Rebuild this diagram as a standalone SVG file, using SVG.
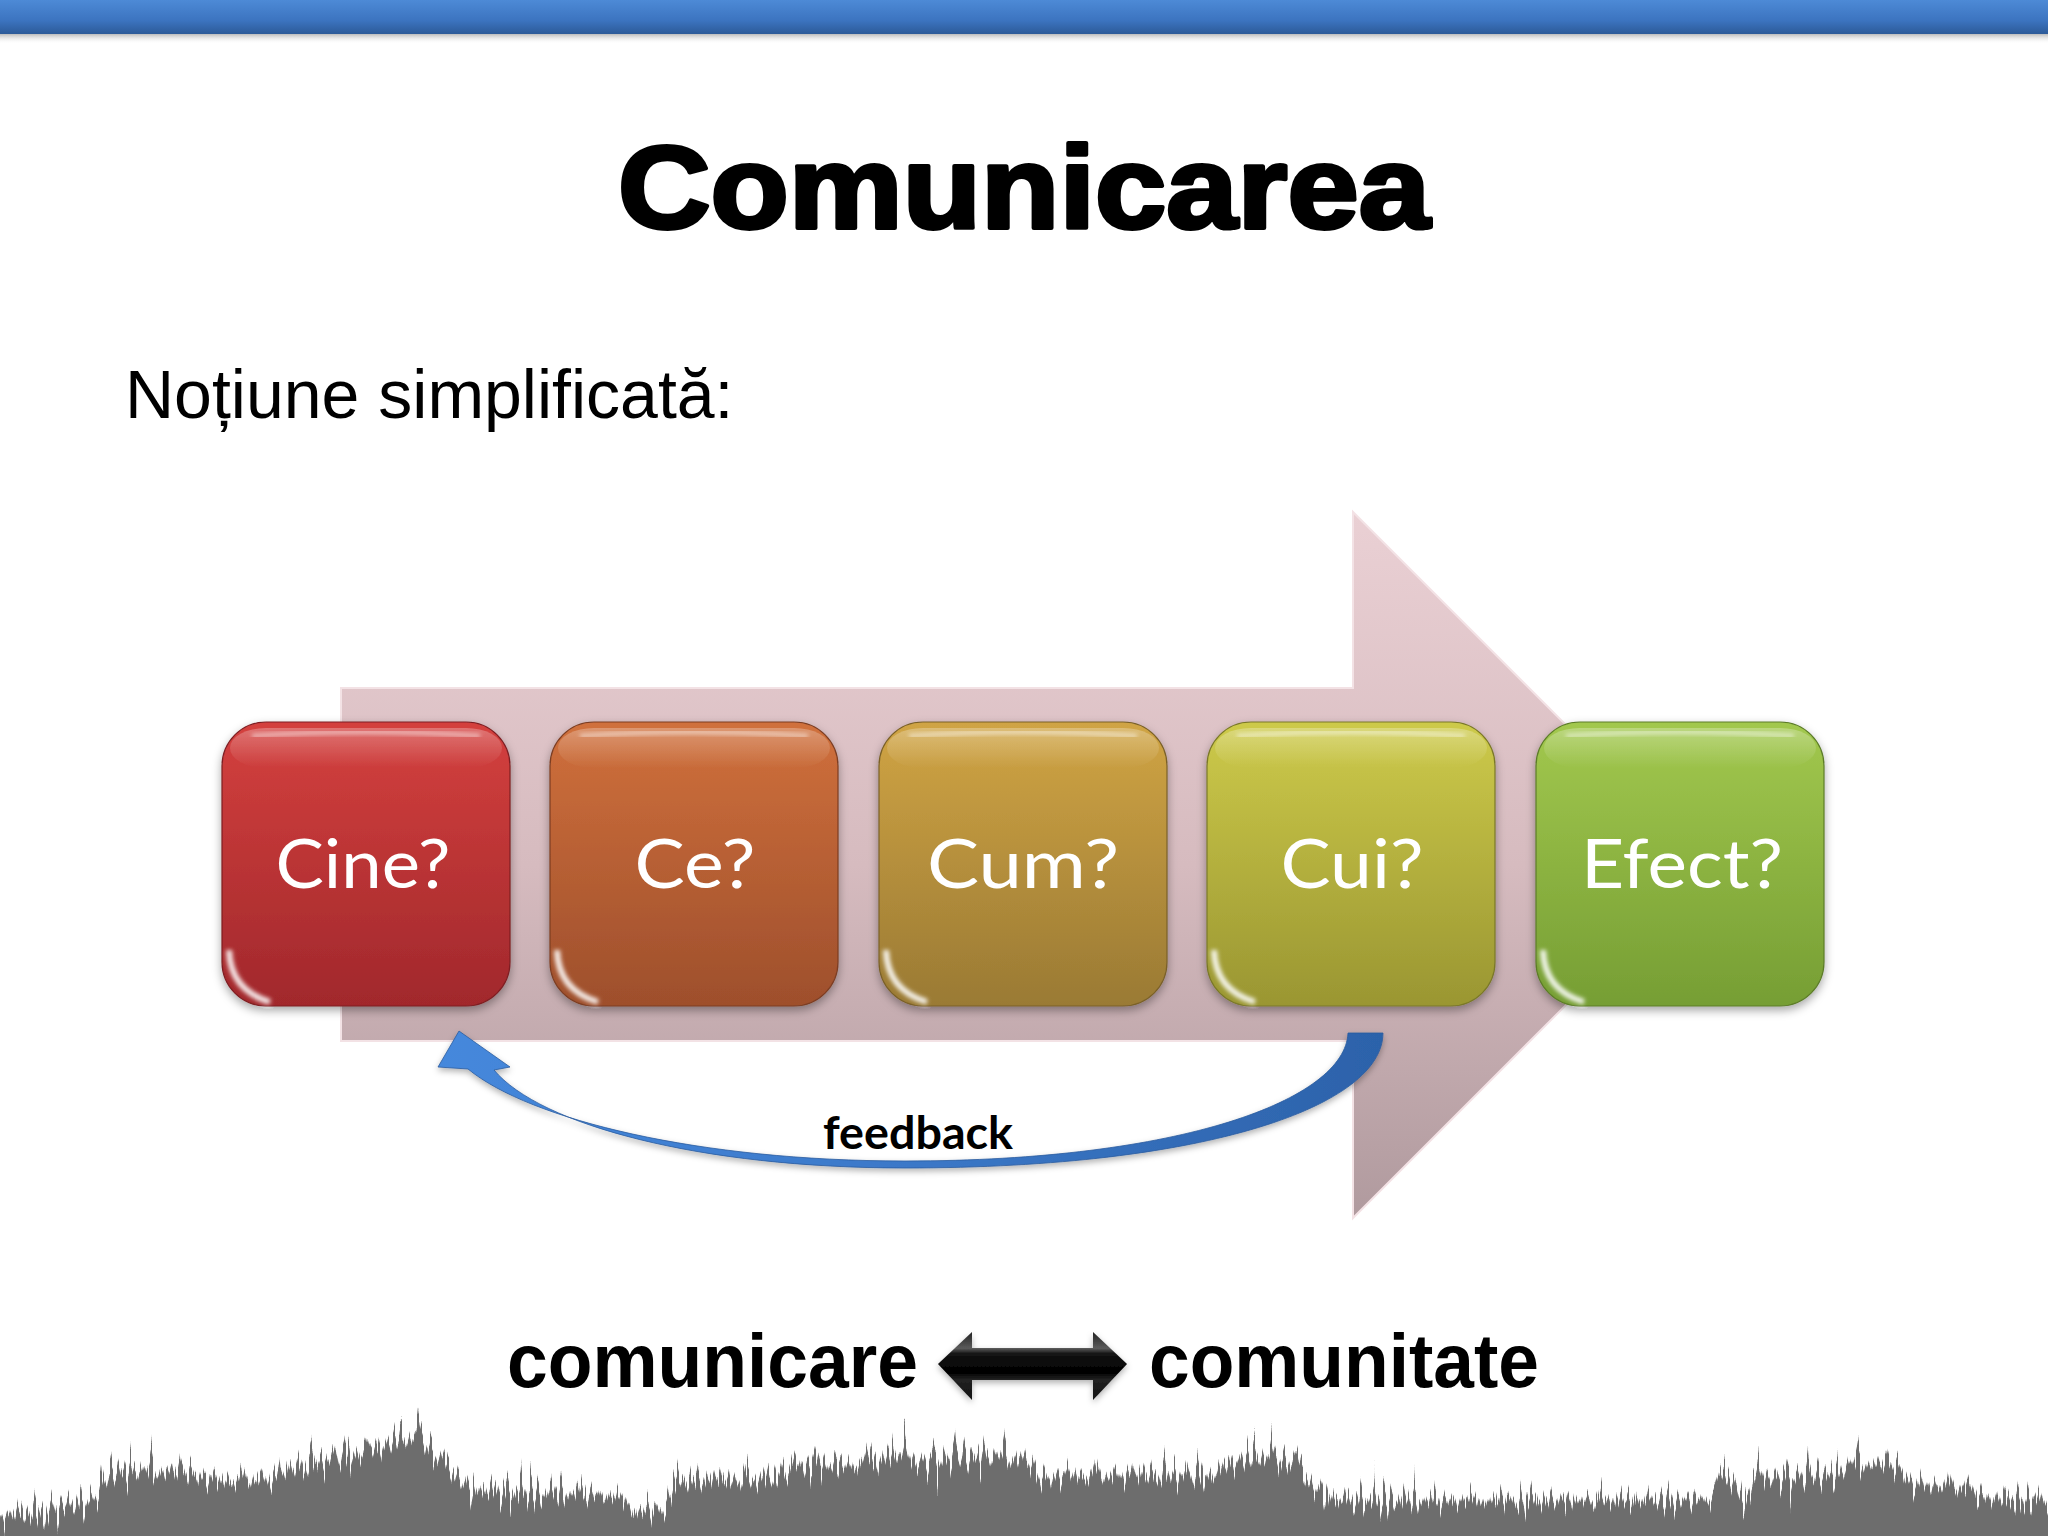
<svg xmlns="http://www.w3.org/2000/svg" width="2048" height="1536" viewBox="0 0 2048 1536">
<style>
.box-label{font-family:Lato,"Open Sans","Liberation Sans",sans-serif;font-size:68px;fill:#ffffff;text-anchor:middle}
.box-edge{stroke-width:1.2}
.bottom-word{font-family:"Liberation Sans",Arial,sans-serif;font-weight:bold;font-size:76px;fill:#000}
</style>
<defs>
  <linearGradient id="bar" x1="0" y1="0" x2="0" y2="1">
    <stop offset="0" stop-color="#4d8ad6"/>
    <stop offset="0.6" stop-color="#3c74c0"/>
    <stop offset="1" stop-color="#2c5a98"/>
  </linearGradient>
  <linearGradient id="barShadow" x1="0" y1="0" x2="0" y2="1">
    <stop offset="0" stop-color="#8a8a8a" stop-opacity="0.7"/>
    <stop offset="1" stop-color="#ffffff" stop-opacity="0"/>
  </linearGradient>
  <linearGradient id="pink" gradientUnits="userSpaceOnUse" x1="0" y1="512" x2="0" y2="1218">
    <stop offset="0" stop-color="#ead0d4"/>
    <stop offset="0.5" stop-color="#d6bbbf"/>
    <stop offset="1" stop-color="#b09a9e"/>
  </linearGradient>
  <linearGradient id="gCine" x1="0" y1="0" x2="0" y2="1">
    <stop offset="0" stop-color="#d4403e"/><stop offset="1" stop-color="#a1282c"/>
  </linearGradient>
  <linearGradient id="gCe" x1="0" y1="0" x2="0" y2="1">
    <stop offset="0" stop-color="#d0703c"/><stop offset="1" stop-color="#9e4f2c"/>
  </linearGradient>
  <linearGradient id="gCum" x1="0" y1="0" x2="0" y2="1">
    <stop offset="0" stop-color="#d0a444"/><stop offset="1" stop-color="#9a7a34"/>
  </linearGradient>
  <linearGradient id="gCui" x1="0" y1="0" x2="0" y2="1">
    <stop offset="0" stop-color="#cdca4a"/><stop offset="1" stop-color="#9a9632"/>
  </linearGradient>
  <linearGradient id="gEfect" x1="0" y1="0" x2="0" y2="1">
    <stop offset="0" stop-color="#a2c84e"/><stop offset="1" stop-color="#769e34"/>
  </linearGradient>
  <linearGradient id="topGloss" x1="0" y1="0" x2="0" y2="1">
    <stop offset="0" stop-color="#ffffff" stop-opacity="0.55"/>
    <stop offset="1" stop-color="#ffffff" stop-opacity="0"/>
  </linearGradient>
  <linearGradient id="blue" gradientUnits="userSpaceOnUse" x1="440" y1="0" x2="1383" y2="0">
    <stop offset="0" stop-color="#4588dc"/>
    <stop offset="0.5" stop-color="#3b78c8"/>
    <stop offset="1" stop-color="#2c62aa"/>
  </linearGradient>
  <linearGradient id="dbl" gradientUnits="userSpaceOnUse" x1="0" y1="1332" x2="0" y2="1400">
    <stop offset="0" stop-color="#222"/>
    <stop offset="0.24" stop-color="#5a5a5a"/>
    <stop offset="0.32" stop-color="#141414"/>
    <stop offset="0.6" stop-color="#000"/>
    <stop offset="0.7" stop-color="#222"/>
    <stop offset="1" stop-color="#111"/>
  </linearGradient>
  <filter id="shadow" x="-10%" y="-10%" width="120%" height="125%">
    <feDropShadow dx="0" dy="4" stdDeviation="5" flood-color="#000" flood-opacity="0.35"/>
  </filter>
  <filter id="softShadow" x="-10%" y="-20%" width="120%" height="160%">
    <feDropShadow dx="0" dy="3" stdDeviation="3" flood-color="#000" flood-opacity="0.3"/>
  </filter>
  <filter id="blur2" x="-20%" y="-20%" width="140%" height="140%">
    <feGaussianBlur stdDeviation="2"/>
  </filter>
  <filter id="wave" x="-5%" y="-60%" width="110%" height="220%" color-interpolation-filters="sRGB">
    <feGaussianBlur in="SourceAlpha" stdDeviation="0 20" result="b"/>
    <feTurbulence type="fractalNoise" baseFrequency="0.3 0.004" numOctaves="3" seed="7" result="n"/>
    <feColorMatrix in="n" type="matrix" values="0 0 0 0 0  0 0 0 0 0  0 0 0 0 0  1 0 0 0 0" result="na"/>
    <feComposite in="b" in2="na" operator="arithmetic" k1="0" k2="1" k3="1.4" k4="-0.7" result="s"/>
    <feComponentTransfer in="s" result="m">
      <feFuncA type="linear" slope="14" intercept="-6.5"/>
    </feComponentTransfer>
    <feFlood flood-color="#6d6d6d"/>
    <feComposite in2="m" operator="in"/>
  </filter>
  <clipPath id="waveClip">
    <path d="M0,1476 L35,1472 L60,1466 L92,1462 L110,1432 L190,1428 L215,1440 L270,1438 L300,1425 L360,1412 L380,1400 L425,1396 L445,1420 L470,1450 L600,1454 L628,1460 L632,1472 L665,1470 L675,1440 L780,1436 L800,1422 L1024,1415 L1037,1434 L1220,1434 L1230,1416 L1298,1416 L1310,1444 L1337,1460 L1710,1460 L1716,1438 L1735,1438 L1742,1470 L1755,1436 L1840,1434 L1850,1422 L1900,1422 L1912,1444 L1970,1446 L1985,1458 L2048,1460 L2048,1536 L0,1536 Z"/>
  </clipPath>
  <g id="gloss">
    <path d="M30,14 Q144,6 258,14" fill="none" stroke="#ffffff" stroke-opacity="0.55" stroke-width="4" filter="url(#blur2)"/>
    <rect x="8" y="6" width="272" height="40" rx="36" fill="url(#topGloss)" opacity="0.5"/>
    <path d="M7,228 Q8,268 48,280" fill="none" stroke="#ffffff" stroke-opacity="0.9" stroke-width="6" filter="url(#blur2)"/>
    <path d="M282,60 L282,230" fill="none" stroke="#ffffff" stroke-opacity="0.25" stroke-width="3" filter="url(#blur2)"/>
  </g>
</defs>

<rect x="0" y="0" width="2048" height="1536" fill="#ffffff"/>

<!-- top bar -->
<g id="top-bar">
  <rect x="0" y="33" width="2048" height="11" fill="url(#barShadow)"/>
  <rect x="0" y="0" width="2048" height="34" fill="url(#bar)"/>
</g>

<!-- title -->
<g id="title">
  <text x="1024" y="228" text-anchor="middle" font-family="'Liberation Sans',Arial,sans-serif" font-weight="bold" font-size="116" fill="#000" stroke="#000" stroke-width="4" stroke-linejoin="round" textLength="812" lengthAdjust="spacingAndGlyphs">Comunicarea</text>
</g>

<g id="subtitle">
  <text x="125" y="418" font-family="'Liberation Sans',Arial,sans-serif" font-size="68" fill="#000">Noțiune simplificată:</text>
</g>

<!-- big background arrow -->
<g id="flow-arrow">
  <path d="M341,688 L1353,688 L1353,512 L1706,865 L1353,1218 L1353,1041 L341,1041 Z" fill="url(#pink)" stroke="#f3e2e5" stroke-width="2"/>
</g>

<!-- nodes -->
<g id="node-cine" filter="url(#shadow)">
  <rect x="222" y="722" width="288" height="284" rx="44" fill="url(#gCine)" stroke="#7e1f22" class="box-edge"/>
  <use href="#gloss" transform="translate(222,722)"/>
  <text class="box-label" x="363" y="888" textLength="175" lengthAdjust="spacingAndGlyphs">Cine?</text>
</g>
<g id="node-ce" filter="url(#shadow)">
  <rect x="550" y="722" width="288" height="284" rx="44" fill="url(#gCe)" stroke="#7c3d22" class="box-edge"/>
  <use href="#gloss" transform="translate(550,722)"/>
  <text class="box-label" x="695" y="888" textLength="121" lengthAdjust="spacingAndGlyphs">Ce?</text>
</g>
<g id="node-cum" filter="url(#shadow)">
  <rect x="879" y="722" width="288" height="284" rx="44" fill="url(#gCum)" stroke="#7a6028" class="box-edge"/>
  <use href="#gloss" transform="translate(879,722)"/>
  <text class="box-label" x="1023" y="888" textLength="192" lengthAdjust="spacingAndGlyphs">Cum?</text>
</g>
<g id="node-cui" filter="url(#shadow)">
  <rect x="1207" y="722" width="288" height="284" rx="44" fill="url(#gCui)" stroke="#7a7828" class="box-edge"/>
  <use href="#gloss" transform="translate(1207,722)"/>
  <text class="box-label" x="1352" y="888" textLength="143" lengthAdjust="spacingAndGlyphs">Cui?</text>
</g>
<g id="node-efect" filter="url(#shadow)">
  <rect x="1536" y="722" width="288" height="284" rx="44" fill="url(#gEfect)" stroke="#5c7c28" class="box-edge"/>
  <use href="#gloss" transform="translate(1536,722)"/>
  <text class="box-label" x="1682" y="888" textLength="202" lengthAdjust="spacingAndGlyphs">Efect?</text>
</g>

<!-- connectors -->
<g id="connectors">
  <g id="feedback-arrow" filter="url(#softShadow)">
    <path d="M1383,1033 C1383,1105 1210,1168 905,1168 C700,1168 540,1125 494,1070 L510,1067 L459,1031 L438,1067 L468,1069 C530,1120 700,1161 905,1161 C1180,1161 1345,1100 1348,1033 Z" fill="url(#blue)" stroke="#2b5c9e" stroke-width="0.8"/>
  </g>
  <g id="double-arrow" filter="url(#softShadow)">
    <path d="M938,1364 L972,1332 L972,1348 L1093,1348 L1093,1332 L1127,1364 L1093,1400 L1093,1380 L972,1380 L972,1400 Z" fill="url(#dbl)"/>
  </g>
</g>

<g id="feedback-label">
  <text x="918" y="1149" text-anchor="middle" font-family="Lato,'Open Sans',sans-serif" font-weight="bold" font-size="46" fill="#000" textLength="190" lengthAdjust="spacingAndGlyphs">feedback</text>
</g>

<g id="bottom-words">
  <text class="bottom-word" x="507" y="1387" textLength="411" lengthAdjust="spacingAndGlyphs">comunicare</text>
  <text class="bottom-word" x="1149" y="1387" textLength="390" lengthAdjust="spacingAndGlyphs">comunitate</text>
</g>

<!-- waveform decoration -->
<g id="waveform" clip-path="url(#waveClip)">
  <path filter="url(#wave)" fill="#000" d="M0,1516 L35,1512 L60,1506 L92,1502 L110,1472 L190,1468 L215,1480 L270,1478 L300,1465 L360,1452 L380,1440 L425,1436 L445,1460 L470,1490 L600,1494 L628,1500 L632,1512 L665,1510 L675,1480 L780,1476 L800,1462 L1024,1455 L1037,1474 L1220,1474 L1230,1456 L1298,1456 L1310,1484 L1337,1500 L1710,1500 L1716,1478 L1735,1478 L1742,1510 L1755,1476 L1840,1474 L1850,1462 L1900,1462 L1912,1484 L1970,1486 L1985,1498 L2048,1500 L2048,1620 L0,1620 Z"/>
</g>
</svg>
